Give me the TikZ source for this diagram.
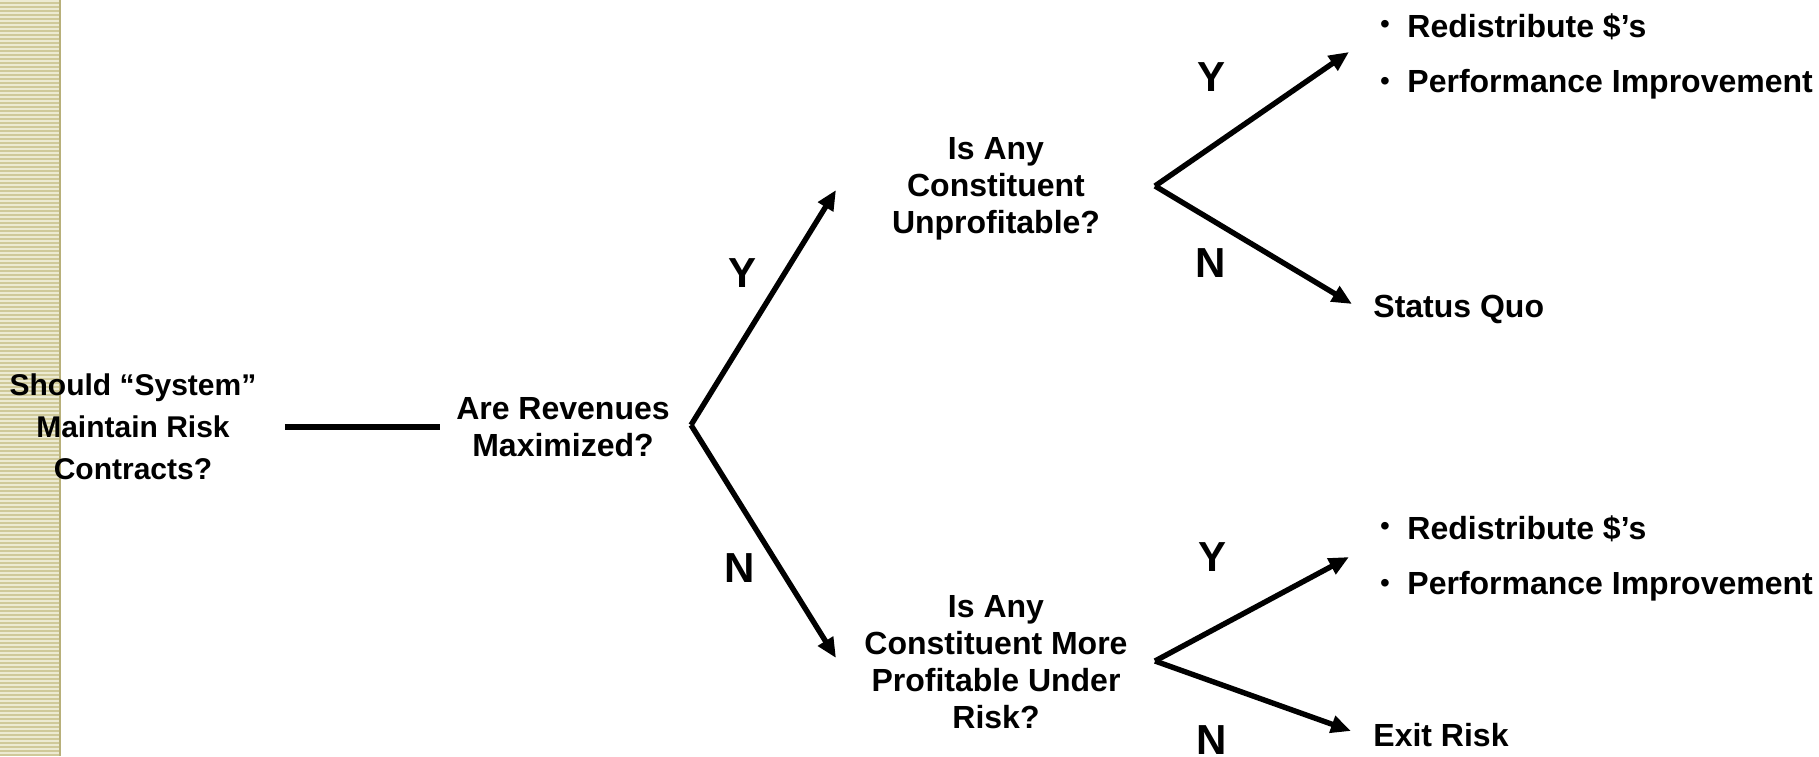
\documentclass[tikz,border=0pt]{standalone}
\usepackage{fontspec}
\setmainfont{Liberation Sans}
\usetikzlibrary{arrows.meta}
\definecolor{stripetan}{HTML}{CFC999}
\definecolor{stripelight}{HTML}{ECEAD2}
\definecolor{stripeedge}{HTML}{B8B07A}
\tikzset{
BRANCH/.style ={draw=black,line width=2.7pt,-{Triangle[length=10pt,width=8.5pt]}},
STEM/.style ={draw=black,line width=2.7pt},
QUESTION/.style={align=center,inner sep=0pt,font=\bfseries\fontsize{16}{18.5}\selectfont},
ANSWER/.style={inner sep=0pt,font=\bfseries\fontsize{21}{24}\selectfont},
OUTCOME/.style={anchor=west,inner sep=0pt,font=\bfseries\fontsize{16}{18.5}\selectfont},
DOT/.style={inner sep=0pt,font=\fontsize{14}{16}\selectfont},
}

\begin{document}
\begin{tikzpicture}[x=0.5pt,y=-0.5pt]
	\useasboundingbox (0,0) rectangle (1819,756);
	%Striped margin
	\fill[stripetan] (0,0) rectangle (60,756);
	\foreach \y in {0,4,...,752}
		\fill[stripelight] (0,\y) rectangle (60,\y+1.6);
	\draw[stripeedge,line width=1pt] (60,0) -- (60,756);
	%Questions
	\node[QUESTION,font=\bfseries\fontsize{15}{21}\selectfont] (system) at (133,427)
		{Should “System”\\Maintain Risk\\Contracts?};
	\node[QUESTION] (revenues) at (563,427) {Are Revenues\\Maximized?};
	\node[QUESTION] (unprofit) at (996,189) {Is Any\\Constituent\\Unprofitable?};
	\node[QUESTION] (profit) at (996,662) {Is Any\\Constituent More\\Profitable Under\\Risk?};
	%Forks
	\coordinate (fork1) at (691,425);
	\coordinate (fork2) at (1155,186);
	\coordinate (fork3) at (1155,661);
	\coordinate (tip1y) at (836,190);
	\coordinate (tip1n) at (836,658);
	\coordinate (tip2y) at (1349,52);
	\coordinate (tip2n) at (1352,304);
	\coordinate (tip3y) at (1349,557);
	\coordinate (tip3n) at (1351,731);
	\draw[STEM,shorten <=14pt,shorten >=8pt] (system) -- (revenues);
	\draw[BRANCH] (fork1) -- (tip1y);
	\draw[BRANCH] (fork1) -- (tip1n);
	\draw[BRANCH] (fork2) -- (tip2y);
	\draw[BRANCH] (fork2) -- (tip2n);
	\draw[BRANCH] (fork3) -- (tip3y);
	\draw[BRANCH] (fork3) -- (tip3n);
	%Answers
	\node[ANSWER] (y1) at (742,273) {Y};
	\node[ANSWER] (n1) at (740,568) {N};
	\node[ANSWER] (y2) at (1211,77) {Y};
	\node[ANSWER] (n2) at (1211,263) {N};
	\node[ANSWER] (y3) at (1212,557) {Y};
	\node[ANSWER] (n3) at (1212,740) {N};
	%Outcomes
	\node[DOT] (dot1) at (1385,27) {•};
	\node[OUTCOME] (redist1) at (1407,27) {Redistribute \$’s};
	\node[DOT] (dot2) at (1385,84) {•};
	\node[OUTCOME] (perf1) at (1407,84) {Performance Improvement};
	\node[OUTCOME] (quo) at (1373,309) {Status Quo};
	\node[DOT] (dot3) at (1385,529) {•};
	\node[OUTCOME] (redist2) at (1407,529) {Redistribute \$’s};
	\node[DOT] (dot4) at (1385,586) {•};
	\node[OUTCOME] (perf2) at (1407,586) {Performance Improvement};
	\node[OUTCOME] (exit) at (1373,735) {Exit Risk};
\end{tikzpicture}
\end{document}
